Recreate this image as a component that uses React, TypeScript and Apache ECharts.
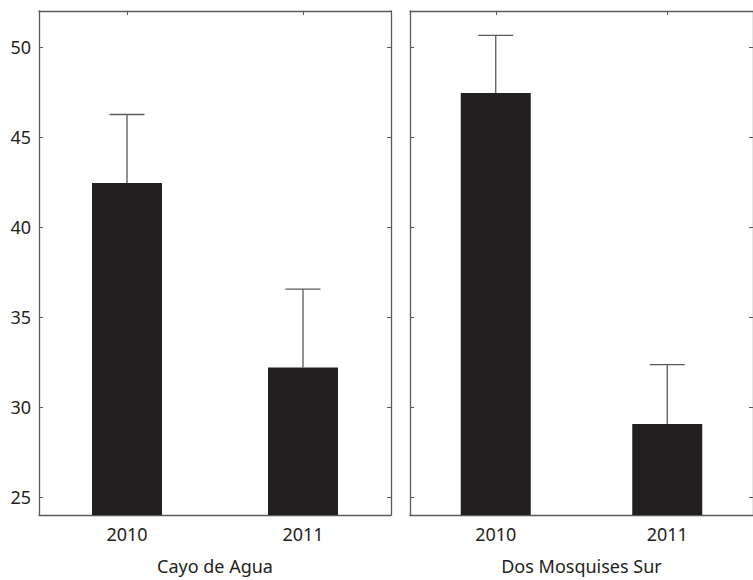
import React, { useEffect, useRef } from "react";
import * as echarts from "echarts";

const years = ["2010", "2011"];
const sites = ["Cayo de Agua", "Dos Mosquises Sur"];
const cayoMeans = [42.45, 32.2];
const cayoUpper = [46.25, 36.55];
const dosMeans = [47.45, 29.05];
const dosUpper = [50.65, 32.35];
const yTicks = [25, 30, 35, 40, 45, 50];

const FONT = "Noto Sans";
const TEXT = "#231f20";
const LINE = "#5a5a5a";

function xAxes(gridIndex: number, name: string) {
  const common = {
    type: "category" as const,
    data: years,
    gridIndex,
    axisLine: { show: true, lineStyle: { color: LINE, width: 1.3 } },
    axisTick: { show: true, inside: true, length: 4, alignWithLabel: true, lineStyle: { color: LINE } },
    splitLine: { show: false },
  };
  return [
    {
      ...common,
      position: "bottom",
      axisLabel: { show: true, color: TEXT, fontSize: 18, fontFamily: FONT, margin: 10 },
      name,
      nameLocation: "middle",
      nameGap: 42,
      nameTextStyle: { color: TEXT, fontSize: 18, fontFamily: FONT, verticalAlign: "top" },
    },
    { ...common, position: "top", axisLabel: { show: false } },
  ];
}

function yAxes(gridIndex: number, showLabels: boolean) {
  const common = {
    type: "value" as const,
    gridIndex,
    min: 24,
    max: 52,
    axisLine: { show: true, lineStyle: { color: LINE, width: 1.3 } },
    axisTick: { show: true, inside: true, length: 4, customValues: yTicks, lineStyle: { color: LINE } },
    splitLine: { show: false },
  };
  return [
    {
      ...common,
      position: "left",
      axisLabel: {
        show: showLabels,
        customValues: yTicks,
        color: TEXT,
        fontSize: 18,
        fontFamily: FONT,
        margin: 8,
      },
    },
    { ...common, position: "right", axisLabel: { show: false } },
  ];
}

function errorSeries(xAxisIndex: number, yAxisIndex: number, means: number[], upper: number[]) {
  return {
    type: "custom",
    xAxisIndex,
    yAxisIndex,
    z: 5,
    data: means.map((m, i) => [i, m, upper[i]]),
    renderItem: (params: any, api: any) => {
      const base = api.coord([api.value(0), api.value(1)]);
      const top = api.coord([api.value(0), api.value(2)]);
      const half = 17.5;
      const style = { stroke: LINE, lineWidth: 1.3 };
      return {
        type: "group",
        children: [
          { type: "line", shape: { x1: base[0], y1: base[1], x2: top[0], y2: top[1] }, style },
          { type: "line", shape: { x1: top[0] - half, y1: top[1], x2: top[0] + half, y2: top[1] }, style },
        ],
      };
    },
  };
}

export default function App() {
  const ref = useRef<HTMLDivElement>(null);
  useEffect(() => {
    if (!ref.current) return;
    const chart = echarts.init(ref.current, null, { renderer: "svg" });
    chart.setOption({
      animation: false,
      backgroundColor: "#ffffff",
      grid: [
        { left: 39, top: 11, width: 352, height: 504 },
        { left: 410, top: 11, width: 352, height: 504 },
      ],
      xAxis: [...xAxes(0, sites[0]), ...xAxes(1, sites[1])],
      yAxis: [...yAxes(0, true), ...yAxes(1, false)],
      series: [
        {
          type: "bar",
          xAxisIndex: 0,
          yAxisIndex: 0,
          data: cayoMeans,
          barWidth: 70,
          itemStyle: { color: TEXT },
        },
        {
          type: "bar",
          xAxisIndex: 2,
          yAxisIndex: 2,
          data: dosMeans,
          barWidth: 70,
          itemStyle: { color: TEXT },
        },
        errorSeries(0, 0, cayoMeans, cayoUpper),
        errorSeries(2, 2, dosMeans, dosUpper),
      ],
    });
    return () => chart.dispose();
  }, []);
  return <div ref={ref} style={{ width: 753, height: 580, position: "absolute", left: 0, top: 0 }} />;
}
